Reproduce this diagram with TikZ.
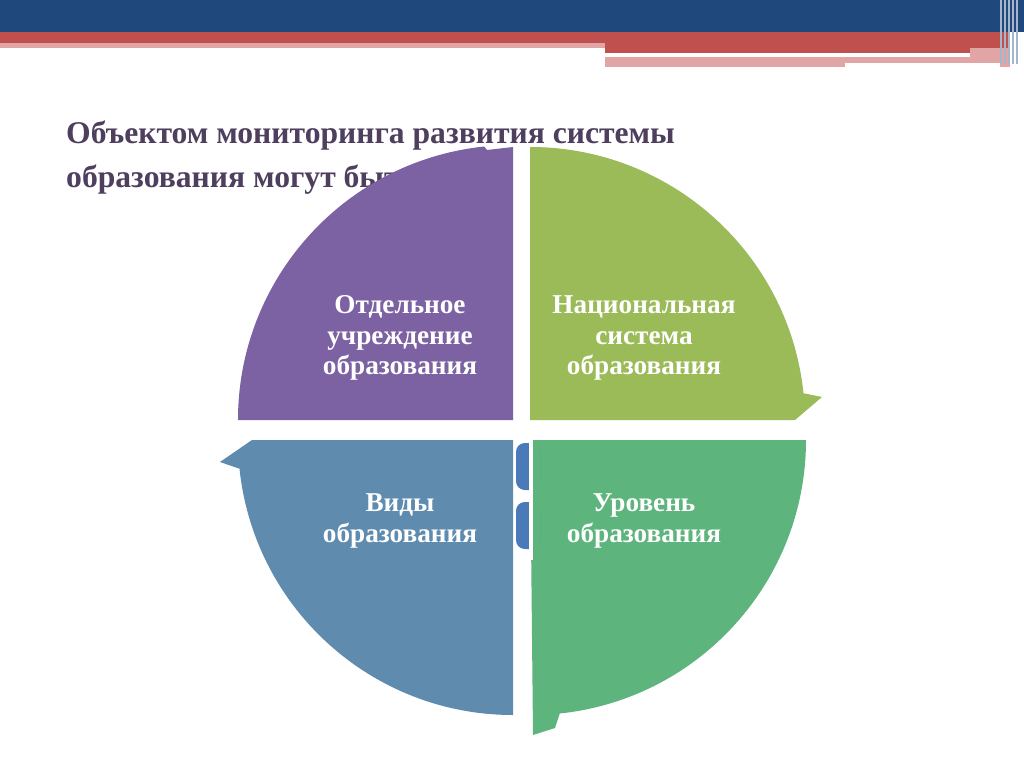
\documentclass[tikz,border=0pt]{standalone}
\usepackage{fontspec}
\setmainfont{Liberation Serif}
\definecolor{topblue}{HTML}{1F497D}
\definecolor{topred}{HTML}{C0504D}
\definecolor{toppink}{HTML}{E0A5A4}
\definecolor{qpurple}{HTML}{7C62A2}
\definecolor{qgreen}{HTML}{9BBB59}
\definecolor{qblue}{HTML}{5F8BAE}
\definecolor{qgreen2}{HTML}{5DB47C}
\definecolor{midblue}{HTML}{4A7AB8}
\definecolor{titlec}{HTML}{4F3F5F}
\tikzset{lab/.style={text=white,font=\fontsize{15.5}{17.5}\selectfont\bfseries,align=center}}
\begin{document}
\begin{tikzpicture}[x=0.02cm,y=-0.02cm]
\useasboundingbox (0,0) rectangle (1024,767);
\fill[white] (0,0) rectangle (1024,767);
% top bars
\fill[topblue] (0,0) rectangle (1024,32);
\fill[topred] (0,32) rectangle (1010,48);
\fill[toppink] (0,43) rectangle (605,48);
\fill[topred] (605,43) rectangle (1010,53);
\fill[toppink] (605,57) rectangle (1010,67);
\fill[white] (845,63) rectangle (1000,67);
\fill[toppink] (970,48) rectangle (1010,62);
\foreach \x in {1000,1004,1008,1012,1016}{\fill[topblue!40] (\x,0) rectangle (\x+1.5,64);}
% title
\node[anchor=west,text=titlec,font=\fontsize{18}{25}\selectfont\bfseries,align=left] (title) at (60,158)
 {Объектом мониторинга развития системы\\образования могут быть};
% quadrants
\fill[qpurple] (513,420) -- (238,420) arc[start angle=180,end angle=264,radius=275] -- (487,150) -- (513,147) -- cycle;
\fill[qgreen] (530,420) -- (530,147) arc[start angle=-90,end angle=-6,radius=275] -- (822,397) -- (795,420) -- cycle;
\fill[qblue] (513,440) -- (513,715) arc[start angle=90,end angle=174,radius=275] -- (220,462) -- (252,440) -- cycle;
\fill[qgreen2] (530,440) -- (806,440) arc[start angle=0,end angle=84,radius=275] -- (555,728) -- (533,735) -- cycle;
% middle small rounded boxes
\fill[midblue,rounded corners=5pt] (516,443) rectangle (540,490);
\fill[midblue,rounded corners=5pt] (516,502) rectangle (540,549);
\fill[white] (529,438) rectangle (533,560);
\fill[qgreen2] (533,440) rectangle (540,560);
% labels
\node[lab] (n1) at (400,338) {Отдельное\\учреждение\\образования};
\node[lab] (n2) at (644,338) {Национальная\\система\\образования};
\node[lab] (n3) at (400,521) {Виды\\образования};
\node[lab] (n4) at (644,521) {Уровень\\образования};
\end{tikzpicture}
\end{document}
